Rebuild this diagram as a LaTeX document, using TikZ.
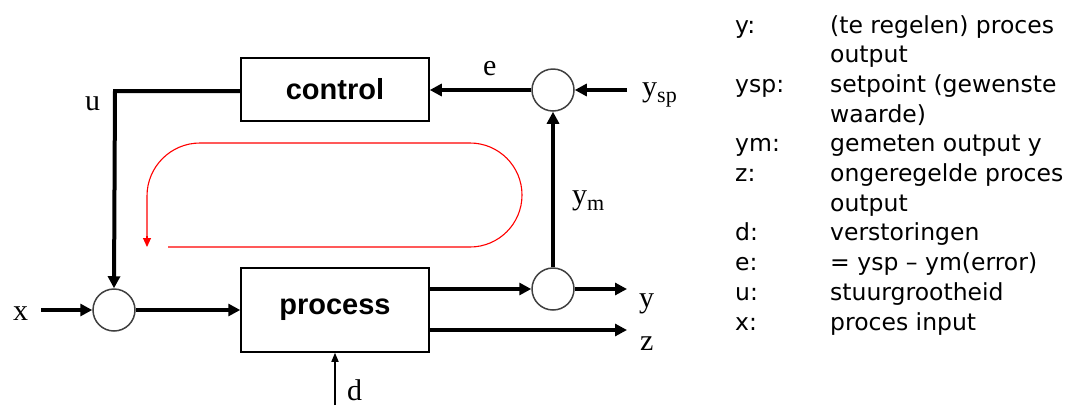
\documentclass[tikz,border=0pt]{standalone}
\usepackage{fontspec}
\setmainfont{Liberation Serif}
\newfontfamily\legendfont{DejaVu Sans}
\newfontfamily\boxfont{Liberation Sans}
\usetikzlibrary{arrows.meta,calc}
\newcommand{\subtxt}[1]{\raisebox{-0.22em}{\fontsize{22}{22}\selectfont #1}}
\begin{document}
\begin{tikzpicture}[x=1pt,y=-1pt,
  blk/.style={draw,line width=1.5pt,minimum width=188pt,inner sep=0pt,font=\boxfont\bfseries\fontsize{29}{32}\selectfont},
  sumc/.style={draw=black!75,line width=1.5pt,circle,minimum size=42pt,inner sep=0pt},
  sig/.style={line width=4pt,-{Triangle[length=12pt,width=12pt]}},
  lbl/.style={font=\fontsize{30}{32}\selectfont,inner sep=0pt,anchor=base west},
  leg/.style={font=\legendfont\fontsize{23.5}{27}\selectfont,inner sep=0pt,anchor=base west},
  loopline/.style={red,line width=1.1pt}]
\useasboundingbox (0,0) rectangle (1067,405);
% blocks
\node[blk,minimum height=63pt] (ctrl) at (335,89.5) {control};
\node[blk,minimum height=84pt] (proc) at (335,310) {process};
% summing junctions
\node[sumc] (s1) at (114,310) {};
\node[sumc] (s2) at (553,90) {};
\node[sumc] (s3) at (553,289) {};
% free ends
\coordinate (xin) at (41,310);
\coordinate (yspin) at (627,90);
\coordinate (yout) at (627,289);
\coordinate (zout) at (627,330);
\coordinate (din) at (335,405);
\coordinate (ucor) at (115,91);
% connectors
\draw[sig] (xin) -- (s1);
\draw[sig] (s1) -- (proc);
\draw[sig] (yspin) -- (s2);
\draw[sig] (s2.west) -- (ctrl.east |- s2.west);
\draw[sig] (ctrl.west |- ucor) -- (ucor) -- (s1.north);
\draw[sig] (proc.east |- s3) -- (s3);
\draw[sig] (s3) -- (yout);
\draw[sig] (proc.east |- zout) -- (zout);
\draw[sig] (s3.north) -- (s2.south);
\draw[line width=1.5pt,-{Triangle[length=9pt,width=7pt]}] (din) -- (proc.south);
% red loop
\coordinate (lp1) at (168,247);
\coordinate (lp2) at (147,247);
\draw[loopline] (lp1) -- (470,247) arc[start angle=90,end angle=-90,radius=52] -- (200,143) arc[start angle=-90,end angle=-180,radius=53] -- (147,237);
\draw[red,line width=1.1pt,-{Triangle[length=9pt,width=8pt]}] (147,236) -- (lp2);
% labels
\node[lbl] (lu) at (85,110) {u};
\node[lbl] (lx) at (13,320) {x};
\node[lbl] (le) at (483,75) {e};
\node[lbl] (lysp) at (642,96) {y\subtxt{sp}};
\node[lbl] (lym) at (572,204) {y\subtxt{m}};
\node[lbl] (ly) at (639,307) {y};
\node[lbl] (lz) at (640,350) {z};
\node[lbl] (ld) at (347,400) {d};
% legend
\foreach \k/\a/\b in {0/y:/(te regelen) proces,1//output,2/ysp:/setpoint (gewenste,3//waarde),4/ym:/gemeten output y,5/z:/ongeregelde proces,6//output,7/d:/verstoringen,8/e:/= ysp – ym(error),9/u:/stuurgrootheid,10/x:/proces input}{
  \node[leg] (la\k) at (735,{33+29.7*\k}) {\a};
  \node[leg] (lb\k) at (830,{33+29.7*\k}) {\b};
}
\end{tikzpicture}
\end{document}
